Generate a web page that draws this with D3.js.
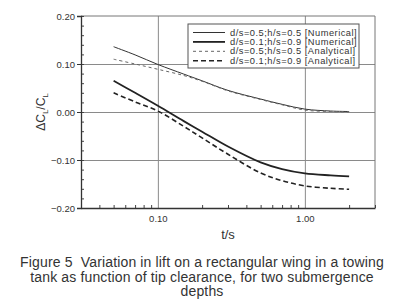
<!DOCTYPE html>
<html>
<head>
<meta charset="utf-8">
<script src="https://cdn.jsdelivr.net/npm/d3@7"></script>
<style>
  body { margin: 0; background: #fff; }
  svg { display: block; font-family: "Liberation Sans", Arial, sans-serif; }
</style>
</head>
<body>
<div id="chart"></div>
<script>
// t/s sample points shared by all curves
var tValues = [0.05, 0.07, 0.1, 0.15, 0.2, 0.3, 0.5, 0.7, 1.0, 1.5, 2.0];

var num05 = [0.136, 0.119, 0.099, 0.079, 0.065, 0.045, 0.027, 0.016, 0.006, 0.002, 0.001];
var num01 = [0.065, 0.040, 0.013, -0.019, -0.041, -0.072, -0.105, -0.119, -0.128, -0.132, -0.134];
var ana05 = [0.110, 0.100, 0.089, 0.076, 0.064, 0.044, 0.026, 0.015, 0.004, 0.001, 0.000];
var ana01 = [0.040, 0.021, 0.002, -0.030, -0.054, -0.088, -0.127, -0.143, -0.154, -0.159, -0.161];

var seriesLabels = [
  "d/s=0.5;h/s=0.5 [Numerical]",
  "d/s=0.1;h/s=0.9 [Numerical]",
  "d/s=0.5;h/s=0.5 [Analytical]",
  "d/s=0.1;h/s=0.9 [Analytical]"
];

var yTicks = [0.20, 0.10, 0.00, -0.10, -0.20];
var xTicks = [0.1, 1.0];
var xTickLabels = ["0.10", "1.00"];
var caption = [
  "Figure 5\u00a0\u00a0Variation in lift on a rectangular wing in a towing",
  "tank as function of tip clearance, for two submergence",
  "depths"
];

var series = [
  { name: seriesLabels[0], values: num05, width: 1,   dash: null,  color: "#333" },
  { name: seriesLabels[1], values: num01, width: 1.8, dash: null,  color: "#222" },
  { name: seriesLabels[2], values: ana05, width: 1,   dash: "3,3", color: "#666" },
  { name: seriesLabels[3], values: ana01, width: 1.6, dash: "5,3", color: "#222" }
];

var W = 395, H = 303;
var pLeft = 81, pRight = 375, pTop = 16, pBottom = 208;

var svg = d3.select("#chart").append("svg")
  .attr("width", W)
  .attr("height", H);

var x = d3.scaleLog().domain([0.03, 3]).range([pLeft, pRight]);
var y = d3.scaleLinear().domain([-0.2, 0.2]).range([pBottom, pTop]);

// grid lines
svg.append("g")
  .attr("transform", "translate(" + pLeft + ",0)")
  .call(d3.axisLeft(y).tickValues([0.1, 0, -0.1]).tickSize(-(pRight - pLeft)).tickFormat(""))
  .call(g => g.select(".domain").remove())
  .selectAll("line").attr("stroke", "#8a8a8a").attr("stroke-width", 1);

svg.append("g")
  .attr("transform", "translate(0," + pBottom + ")")
  .call(d3.axisBottom(x).tickValues(xTicks).tickSize(-(pBottom - pTop)).tickFormat(""))
  .call(g => g.select(".domain").remove())
  .selectAll("line").attr("stroke", "#8a8a8a").attr("stroke-width", 1);

// frame top/right
svg.append("path")
  .attr("d", "M" + pLeft + "," + pTop + "H" + pRight + "V" + pBottom)
  .attr("fill", "none")
  .attr("stroke", "#777")
  .attr("stroke-width", 1);

// y axis
var yMinor = d3.range(-0.2, 0.2001, 0.02);
svg.append("g")
  .attr("transform", "translate(" + pLeft + ",0)")
  .call(d3.axisLeft(y).tickValues(yMinor).tickSize(-3).tickFormat(""))
  .call(g => g.select(".domain").remove())
  .selectAll("line").attr("stroke", "#444");

var yAxis = svg.append("g")
  .attr("transform", "translate(" + pLeft + ",0)")
  .call(d3.axisLeft(y).tickValues(yTicks).tickSize(4).tickPadding(2)
    .tickFormat(d => d < 0 ? "\u2212" + d3.format(".2f")(-d) : d3.format(".2f")(d)));
yAxis.select(".domain").attr("stroke", "#333").attr("stroke-width", 1.3);
yAxis.selectAll("line").attr("stroke", "#333");
yAxis.selectAll("text").attr("font-size", 9.5).attr("fill", "#333");

// x axis
var xMinor = [0.04, 0.05, 0.06, 0.07, 0.08, 0.09, 0.2, 0.3, 0.4, 0.5, 0.6, 0.7, 0.8, 0.9, 2, 3];
svg.append("g")
  .attr("transform", "translate(0," + pBottom + ")")
  .call(d3.axisBottom(x).tickValues(xMinor).tickSize(-3).tickFormat(""))
  .call(g => g.select(".domain").remove())
  .selectAll("line").attr("stroke", "#444");

var xAxis = svg.append("g")
  .attr("transform", "translate(0," + pBottom + ")")
  .call(d3.axisBottom(x).tickValues(xTicks).tickSize(0).tickPadding(7)
    .tickFormat((d, i) => xTickLabels[i]));
xAxis.select(".domain").attr("stroke", "#333").attr("stroke-width", 1.3);
xAxis.selectAll("text").attr("font-size", 9.5).attr("fill", "#333");

// axis titles
svg.append("text")
  .attr("x", 228)
  .attr("y", 239)
  .attr("text-anchor", "middle")
  .attr("font-size", 13)
  .attr("fill", "#333")
  .text("t/s");

var yl = svg.append("text")
  .attr("transform", "translate(45,112) rotate(-90)")
  .attr("text-anchor", "middle")
  .attr("font-size", 12)
  .attr("fill", "#333");
yl.append("tspan").text("\u0394C");
yl.append("tspan").attr("font-size", 8).attr("dy", 3).text("L");
yl.append("tspan").attr("dy", -3).text("/C");
yl.append("tspan").attr("font-size", 8).attr("dy", 3).text("L");

// curves
var line = d3.line()
  .x((d, i) => x(tValues[i]))
  .y(d => y(d))
  .curve(d3.curveCatmullRom.alpha(0.5));

svg.selectAll(".curve")
  .data(series)
  .enter().append("path")
  .attr("class", "curve")
  .attr("d", d => line(d.values))
  .attr("fill", "none")
  .attr("stroke", d => d.color)
  .attr("stroke-width", d => d.width)
  .attr("stroke-dasharray", d => d.dash);

// legend
var lg = svg.append("g").attr("transform", "translate(188,24)");
lg.append("rect")
  .attr("width", 171)
  .attr("height", 44)
  .attr("fill", "#fff")
  .attr("stroke", "#555")
  .attr("stroke-width", 1);

var item = lg.selectAll(".item")
  .data(series)
  .enter().append("g")
  .attr("class", "item")
  .attr("transform", (d, i) => "translate(0," + (8.5 + i * 9.4) + ")");

item.append("line")
  .attr("x1", 5).attr("x2", 37)
  .attr("stroke", d => d.color)
  .attr("stroke-width", d => d.width)
  .attr("stroke-dasharray", d => d.dash);

item.append("text")
  .attr("x", 42)
  .attr("dy", "0.33em")
  .attr("font-size", 9.3)
  .attr("letter-spacing", 0.5)
  .attr("fill", "#333")
  .text(d => d.name);

// caption
svg.selectAll(".cap")
  .data(caption)
  .enter().append("text")
  .attr("class", "cap")
  .attr("x", 202)
  .attr("y", (d, i) => 267 + i * 14.7)
  .attr("text-anchor", "middle")
  .attr("font-size", 14)
  .attr("letter-spacing", 0.15)
  .attr("fill", "#333")
  .text(d => d);
</script>
</body>
</html>
